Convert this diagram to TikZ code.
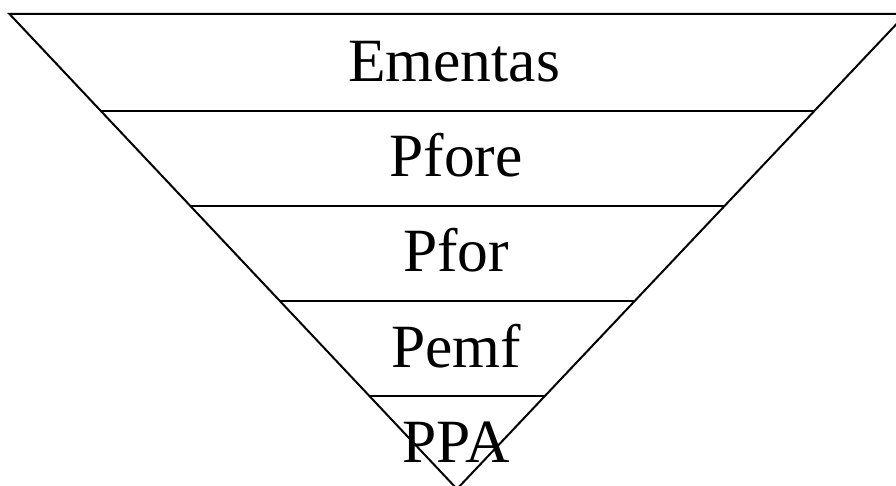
\documentclass[tikz,border=0pt]{standalone}
\usepackage{fontspec}
\setmainfont{Liberation Serif}
\usetikzlibrary{calc}
\begin{document}
\begin{tikzpicture}[x=1pt,y=1pt,
  edge/.style={line width=2pt,line cap=butt},
  label/.style={anchor=base,inner sep=0pt,font=\fontsize{61.5}{72}\selectfont}]
\useasboundingbox (0,0) rectangle (896,486);
\clip (0,0) rectangle (896,486);
\coordinate (L) at (9.5,472);
\coordinate (R) at (906,472);
\coordinate (A) at (457,-3);
\draw[edge] (L) -- (R) -- (A) -- cycle;
\foreach \t [count=\i] in {0.2042,0.4042,0.6042,0.8042}{
  \coordinate (l\i) at ($(L)!\t!(A)$);
  \coordinate (r\i) at ($(R)!\t!(A)$);
  \draw[edge] (l\i) -- (r\i);
}
\node[label] (e) at (454,404) {Ementas};
\node[label] (f1) at (456,309) {Pfore};
\node[label] (f2) at (456,214) {Pfor};
\node[label] (f3) at (456,118) {Pemf};
\node[label] (f4) at (456,23) {PPA};
\end{tikzpicture}
\end{document}
